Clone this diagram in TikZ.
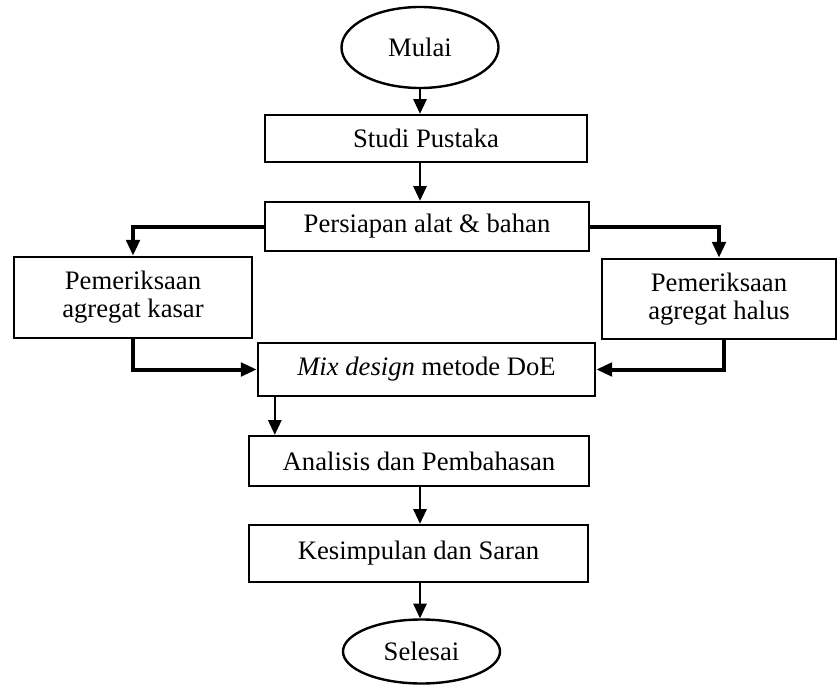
\documentclass[tikz,border=0pt]{standalone}
\usepackage{fontspec}
\setmainfont{Liberation Serif}
\usepackage{tikz}
\usetikzlibrary{arrows.meta}
\usetikzlibrary{positioning,shapes.geometric}

\tikzset{
  startstop/.style={ellipse, draw, line width=1.8pt, inner sep=0pt},
  procbox/.style={rectangle, draw, line width=1.8pt, inner sep=0pt, align=center},
  arr/.style={line width=1.3pt, -{Triangle[width=10pt,length=11pt]}},
  thickarr/.style={line width=3pt, -{Triangle[width=10pt,length=12pt]}}
}

\begin{document}
\begin{tikzpicture} [x=0.75pt, y=-0.75pt]
%\draw [help lines, step=10](0,0) grid (837,684);
\useasboundingbox (0,0) rectangle (837,684);
\begin{scope}[font=\fontsize{20}{21}\selectfont]

\node [startstop, minimum width=117.75pt, minimum height=60.75pt] (mulai) at (420,47.5) {Mulai};
\node [procbox, minimum width=241.5pt, minimum height=35.25pt] (studi) at (426,138.5) {Studi Pustaka};
\node [procbox, minimum width=243pt, minimum height=36.75pt] (persiapan) at (427,226.5) {Persiapan alat \& bahan};
\node [procbox, minimum width=178.5pt, minimum height=60.75pt] (kasar) at (133,297.5) {Pemeriksaan\\agregat kasar};
\node [procbox, minimum width=175.5pt, minimum height=60pt] (halus) at (719,299) {Pemeriksaan\\agregat halus};
\node [procbox, minimum width=252.75pt, minimum height=39.75pt] (mix) at (426.5,369.5) {\textit{Mix design} metode DoE};
\node [procbox, minimum width=255pt, minimum height=37.5pt] (analisis) at (419,461) {Analisis dan Pembahasan};
\node [procbox, minimum width=254.25pt, minimum height=42.75pt] (kesimpulan) at (418.5,553.5) {Kesimpulan dan Saran};
\node [startstop, minimum width=117.75pt, minimum height=48pt] (selesai) at (421.5,651.5) {Selesai};

\draw [arr] (mulai.south) -- (mulai.south |- studi.north);
\draw [arr] (mulai.south |- studi.south) -- (mulai.south |- persiapan.north);

\draw [thickarr] (persiapan.west) -| (kasar.north);
\draw [thickarr] (persiapan.east) -| (halus.north);
\draw [thickarr] (kasar.south) |- (mix.west);
\draw [thickarr] ([xshift=3.75pt]halus.south) |- (mix.east);

\coordinate (mixout) at ([xshift=13.5pt]mix.south west);
\draw [arr] (mixout) -- (mixout |- analisis.north);
\draw [arr] (mulai.south |- analisis.south) -- (mulai.south |- kesimpulan.north);
\draw [arr] (mulai.south |- kesimpulan.south) -- (mulai.south |- selesai.north);

\end{scope}
\end{tikzpicture}
\end{document}
